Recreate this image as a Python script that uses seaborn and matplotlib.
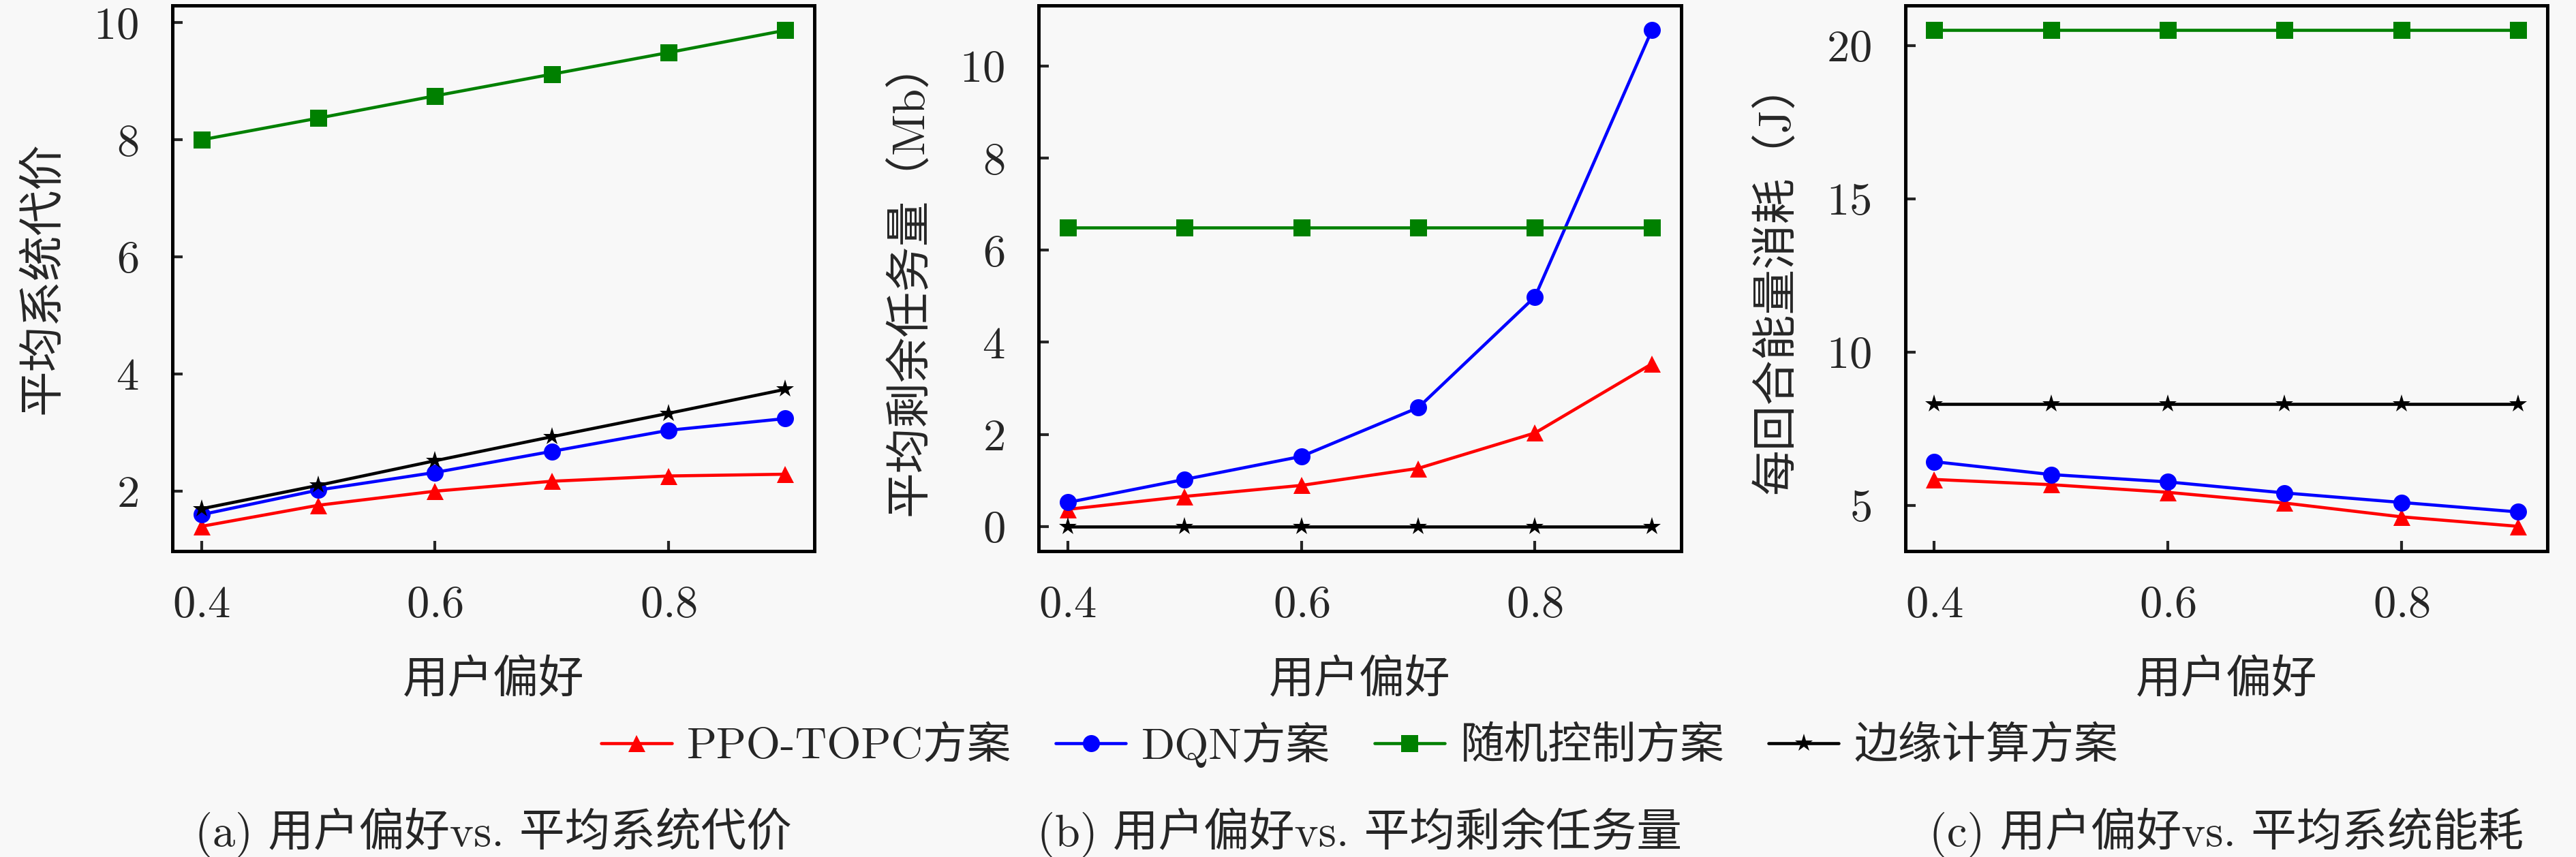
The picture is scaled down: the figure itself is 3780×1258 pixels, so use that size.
import pandas as pd
import matplotlib
matplotlib.use("Agg")
import matplotlib.pyplot as plt
from matplotlib.ticker import MultipleLocator
import seaborn as sns

# --- 数据 ---
preference = [0.4, 0.5, 0.6, 0.7, 0.8, 0.9]
schemes = ["PPO-TOPC方案", "DQN方案", "随机控制方案", "边缘计算方案"]

# (a) 平均系统代价
ppo_cost = [1.40, 1.76, 2.00, 2.17, 2.26, 2.29]
dqn_cost = [1.60, 2.02, 2.32, 2.68, 3.04, 3.24]
rand_cost = [8.00, 8.37, 8.75, 9.12, 9.49, 9.87]
edge_cost = [1.70, 2.10, 2.52, 2.93, 3.33, 3.74]

# (b) 平均剩余任务量 (Mb)
ppo_task = [0.37, 0.65, 0.89, 1.26, 2.03, 3.53]
dqn_task = [0.52, 1.02, 1.52, 2.58, 4.99, 10.78]
rand_task = [6.50, 6.50, 6.50, 6.50, 6.50, 6.50]
edge_task = [0.00, 0.00, 0.00, 0.00, 0.00, 0.00]

# (c) 每回合能量消耗 (J)
ppo_energy = [5.84, 5.67, 5.42, 5.07, 4.62, 4.31]
dqn_energy = [6.42, 6.00, 5.76, 5.40, 5.09, 4.78]
rand_energy = [20.50, 20.50, 20.50, 20.50, 20.50, 20.50]
edge_energy = [8.31, 8.31, 8.31, 8.31, 8.31, 8.31]

ylabels = ["平均系统代价", "平均剩余任务量（Mb）", "每回合能量消耗（J）"]
captions = ["(a) 用户偏好vs. 平均系统代价",
            "(b) 用户偏好vs. 平均剩余任务量",
            "(c) 用户偏好vs. 平均系统能耗"]
xlabel = "用户偏好"


def to_long(series_list):
    rows = []
    for name, vals in zip(schemes, series_list):
        for x, y in zip(preference, vals):
            rows.append({"pref": x, "value": y, "scheme": name})
    return pd.DataFrame(rows)


panels = [
    to_long([ppo_cost, dqn_cost, rand_cost, edge_cost]),
    to_long([ppo_task, dqn_task, rand_task, edge_task]),
    to_long([ppo_energy, dqn_energy, rand_energy, edge_energy]),
]
y_steps = [2, 2, 5]

# --- 样式 ---
bg = "#f8f8f8"
sns.set_style("ticks")
plt.rcParams["font.family"] = ["cmr10", "Noto Sans CJK SC"]
plt.rcParams["mathtext.fontset"] = "cm"
plt.rcParams["axes.formatter.use_mathtext"] = True
plt.rcParams["axes.unicode_minus"] = False
plt.rcParams["font.size"] = 16

palette = {schemes[0]: "#ff0000", schemes[1]: "#0000ff",
           schemes[2]: "#008000", schemes[3]: "#000000"}
markers = {schemes[0]: "^", schemes[1]: "o", schemes[2]: "s", schemes[3]: "*"}

fig, axes = plt.subplots(1, 3, figsize=(12.6, 1258 / 300), dpi=300)
fig.patch.set_facecolor(bg)
fig.subplots_adjust(left=0.0669, right=0.9889, bottom=0.3569, top=0.9936,
                    wspace=0.349)

for ax, df, ylab, step in zip(axes, panels, ylabels, y_steps):
    ax.set_facecolor(bg)
    sns.lineplot(data=df, x="pref", y="value", hue="scheme", style="scheme",
                 hue_order=schemes, style_order=schemes, palette=palette,
                 markers=markers, dashes=False, linewidth=1.1,
                 markersize=6, markeredgewidth=0, ax=ax)
    for line in ax.lines:
        if line.get_marker() == "*":
            line.set_markersize(6.5)
    ax.set_xlabel(xlabel, fontsize=16, labelpad=12)
    ax.set_ylabel(ylab, fontsize=16, labelpad=10)
    ax.xaxis.set_major_locator(MultipleLocator(0.2))
    ax.yaxis.set_major_locator(MultipleLocator(step))
    ax.tick_params(direction="in", length=3.5, width=1.0, pad=12,
                   labelsize=16, top=False, right=False)
    for sp in ax.spines.values():
        sp.set_linewidth(1.2)
        sp.set_color("black")
        sp.set_visible(True)
    ax.get_legend().remove()

handles, labels = axes[0].get_legend_handles_labels()
box = axes[1].get_position()
fig.legend(handles, labels, loc="center", ncol=4, frameon=False,
           bbox_to_anchor=((box.x0 + box.x1) / 2, 1 - 1093 / 1258),
           fontsize=15.5, handlelength=1.6, handletextpad=0.35,
           columnspacing=1.0)

for ax, cap in zip(axes, captions):
    b = ax.get_position()
    fig.text((b.x0 + b.x1) / 2, 1 - 1222 / 1258, cap, ha="center",
             va="center", fontsize=16)

fig.savefig("out.png", dpi=300, facecolor=bg)
plt.close(fig)
